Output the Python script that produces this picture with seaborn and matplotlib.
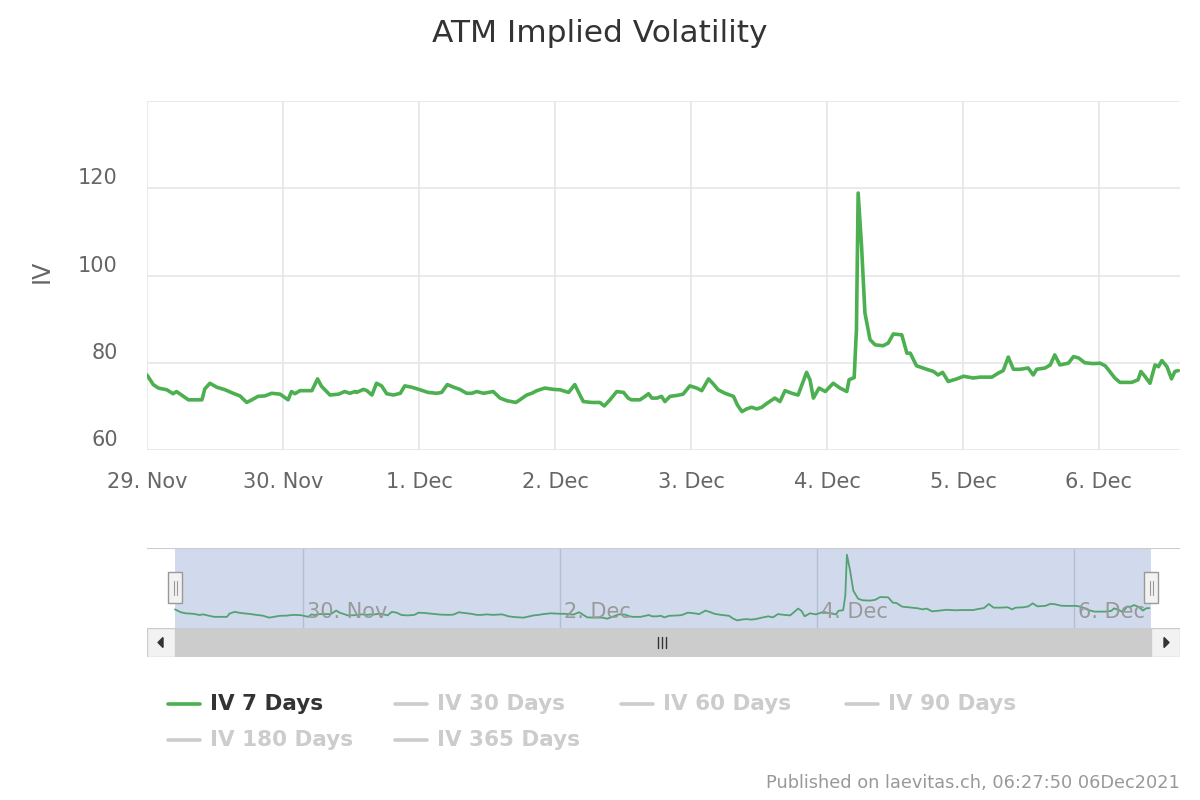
import matplotlib
matplotlib.use("Agg")
import matplotlib.pyplot as plt
import seaborn as sns
import numpy as np
import pandas as pd
from matplotlib.transforms import ScaledTranslation
from matplotlib.lines import Line2D
from matplotlib.patches import Rectangle, Polygon

# ---------------- data ----------------
hours = [0.0, 1.1, 2.0, 3.5, 4.6, 5.2, 6.1, 7.3, 9.7, 10.2, 11.1, 12.3, 13.8, 15.2, 16.4,
         17.6, 18.5, 19.6, 20.8, 22.0, 23.5, 24.9, 25.5, 26.1, 27.0, 29.1, 30.1, 30.8, 31.7,
         32.3, 33.8, 34.9, 35.8, 36.7, 37.0, 38.2, 38.8, 39.7, 40.5, 41.4, 42.3, 43.5, 44.7,
         45.5, 46.7, 48.2, 49.6, 51.1, 52.0, 53.0, 54.1, 55.2, 56.4, 57.3, 58.2, 59.4, 61.1,
         62.3, 63.5, 65.1, 65.8, 67.0, 67.9, 68.8, 70.2, 71.7, 72.9, 74.4, 75.5, 76.4, 77.0,
         78.5, 79.9, 80.7, 81.7, 82.9, 84.1, 84.9, 85.5, 87.0, 87.9, 88.5, 89.1, 90.0, 90.8,
         91.4, 92.3, 93.5, 94.6, 95.8, 97.0, 97.9, 99.1, 99.9, 100.8, 102.0, 103.5, 104.2,
         105.0, 105.8, 106.7, 107.6, 108.5, 109.4, 110.8, 111.7, 112.6, 113.8, 114.9, 116.4,
         117.0, 117.6, 118.6, 119.7, 121.1, 122.3, 123.5, 123.9, 124.8, 125.2, 125.5, 126.1,
         126.7, 127.6, 128.5, 129.9, 130.8, 131.7, 133.2, 134.1, 134.7, 135.8, 137.6, 138.8,
         139.6, 140.4, 141.4, 142.9, 144.1, 145.8, 147.0, 149.1, 150.2, 151.1, 152.0, 152.9,
         154.1, 155.5, 156.4, 157.0, 158.5, 159.4, 160.2, 161.1, 162.6, 163.5, 164.4, 165.5,
         167.0, 168.2, 169.1, 169.6, 170.8, 171.7, 173.8, 174.9, 175.4, 176.1, 177.0, 177.9,
         178.5, 179.1, 180.0, 180.8, 181.4, 182.0]
iv_7d = [77.2, 75.0, 74.2, 73.8, 72.9, 73.4, 72.6, 71.5, 71.5, 74.0, 75.3, 74.4, 73.8, 73.0, 72.4,
         70.9, 71.5, 72.3, 72.4, 73.0, 72.8, 71.5, 73.4, 72.9, 73.6, 73.6, 76.3, 74.6, 73.4,
         72.6, 72.8, 73.4, 73.0, 73.4, 73.2, 73.9, 73.6, 72.6, 75.3, 74.7, 72.9, 72.6, 73.0,
         74.7, 74.4, 73.8, 73.2, 73.0, 73.2, 75.0, 74.4, 73.9, 73.0, 73.0, 73.4, 73.0, 73.4,
         71.9, 71.3, 70.9, 71.5, 72.6, 73.0, 73.6, 74.2, 73.9, 73.8, 73.2, 75.0, 72.6, 71.1,
         70.9, 70.9, 70.1, 71.5, 73.4, 73.2, 71.9, 71.5, 71.5, 72.3, 72.9, 71.9, 71.9, 72.3,
         71.1, 72.3, 72.5, 72.8, 74.7, 74.2, 73.6, 76.3, 75.2, 73.8, 73.0, 72.3, 70.3,
         68.8, 69.4, 69.8, 69.4, 69.8, 70.7, 71.9, 71.1, 73.6, 73.0, 72.6, 77.8,
         76.1, 71.9, 74.2, 73.4, 75.3, 74.2, 73.4, 76.1, 76.6, 87.6, 118.9, 106.7,
         91.4, 85.3, 84.1, 83.9, 84.5, 86.6, 86.4, 82.2, 82.2, 79.3, 78.5, 78.0,
         77.2, 77.8, 75.7, 76.3, 76.9, 76.5, 76.7, 76.7, 77.6, 78.2, 81.3, 78.5,
         78.5, 78.8, 77.2, 78.5, 78.8, 79.5, 81.8, 79.5, 79.9, 81.4, 81.1, 80.0,
         79.8, 79.9, 79.3, 78.5, 76.5, 75.5, 75.5, 76.1, 78.0, 76.9, 75.3, 79.5,
         79.1, 80.5, 79.1, 76.3, 78.0, 78.2]

day_ticks_hours = [0, 24, 48, 72, 96, 120, 144, 168]
day_labels = ["29. Nov", "30. Nov", "1. Dec", "2. Dec", "3. Dec", "4. Dec", "5. Dec", "6. Dec"]
y_ticks = [60, 80, 100, 120, 140]
y_labels = ["60", "80", "100", "120", ""]
nav_tick_hours = [24, 72, 120, 168]
nav_labels = ["30. Nov", "2. Dec", "4. Dec", "6. Dec"]
legend_names = ["IV 7 Days", "IV 30 Days", "IV 60 Days", "IV 90 Days", "IV 180 Days", "IV 365 Days"]
legend_visible = [True, False, False, False, False, False]

df = pd.DataFrame({"hours": hours, "iv": iv_7d})

# ---------------- style ----------------
sns.set_theme(style="white")
plt.rcParams["font.family"] = ["DejaVu Sans"]

W, H = 1200, 800
def fx(x): return x / W
def fy(y): return 1 - y / H

GREEN = "#4caf50"
GRID = "#e6e6e6"
TICK = "#666666"

fig = plt.figure(figsize=(12, 8), dpi=100)
fig.patch.set_facecolor("white")

# ---------------- main chart ----------------
x_end = 182.3
ax = fig.add_axes([fx(147), fy(450), (1180 - 147) / W, (450 - 101) / H])
sns.lineplot(data=df, x="hours", y="iv", ax=ax, color=GREEN, linewidth=2.6)
ax.set_xlim(0, x_end)
ax.set_ylim(60, 140)
ax.set_xticks(day_ticks_hours)
ax.set_xticklabels(day_labels)
ax.set_yticks(y_ticks)
ax.set_yticklabels(y_labels)
ax.grid(True, color=GRID, linewidth=1.2)
ax.set_axisbelow(True)
for s in ax.spines.values():
    s.set_visible(False)
ax.tick_params(axis="both", length=0, labelsize=15, labelcolor=TICK)
ax.tick_params(axis="y", pad=21)
ax.tick_params(axis="x", pad=16)
ax.set_xlabel("")
ax.set_ylabel("")
for lab in ax.get_yticklabels():
    lab.set_transform(lab.get_transform() + ScaledTranslation(0, 12 / 100, fig.dpi_scale_trans))

fig.text(fx(600), fy(33), "ATM Implied Volatility", ha="center", va="center",
         fontsize=22.5, color="#333333")
fig.text(fx(42), fy(271), "IV", ha="center", va="center", rotation=90,
         fontsize=17, color=TICK)

# ---------------- navigator ----------------
px_per_h = (1151 - 175) / x_end
nav_l = 0 - (175 - 147) / px_per_h
nav_r = x_end + (1180 - 1151) / px_per_h
ax2 = fig.add_axes([fx(147), fy(628), (1180 - 147) / W, (628 - 548) / H])
sns.lineplot(data=df, x="hours", y="iv", ax=ax2, color=GREEN, linewidth=1.3)
ax2.set_xlim(nav_l, nav_r)
ax2.set_ylim(63, 124)
ax2.set_xticks(nav_tick_hours)
ax2.set_yticks([])
ax2.set_xticklabels([])
ax2.grid(True, axis="x", color="#d8d8d8", linewidth=1)
ax2.set_axisbelow(True)
ax2.tick_params(length=0)
ax2.set_xlabel("")
ax2.set_ylabel("")
for s in ax2.spines.values():
    s.set_visible(False)
ax2.axhline(124, color="#cccccc", linewidth=1.5, zorder=5)
ax2.axvspan(0, x_end, color="#6685c2", alpha=0.3, linewidth=0, zorder=4)
for h, lab in zip(nav_tick_hours, nav_labels):
    ax2.text(h + 0.6, 75, lab, ha="left", va="center", fontsize=15, color="#999999", zorder=6)

# handles
for hx in (0, x_end):
    ax2.add_patch(Rectangle((hx - 7 / px_per_h, 82), 14 / px_per_h, 23.5,
                            facecolor="#f2f2f2", edgecolor="#999999", linewidth=1,
                            zorder=7, clip_on=False))
    for dx in (-1.5, 1.5):
        ax2.plot([hx + dx / px_per_h] * 2, [88, 99], color="#999999", linewidth=0.8,
                 zorder=8, clip_on=False)

# ---------------- scrollbar ----------------
ax3 = fig.add_axes([fx(147), fy(657), (1180 - 147) / W, (657 - 628) / H])
ax3.set_xlim(147, 1180)
ax3.set_ylim(657, 628)
ax3.axis("off")
ax3.add_patch(Rectangle((147, 628), 1033, 29, facecolor="#f2f2f2", edgecolor="#d6d6d6", linewidth=1))
ax3.add_patch(Rectangle((175, 628), 976, 29, facecolor="#cccccc", edgecolor="#cccccc", linewidth=0))
ax3.add_patch(Rectangle((147, 628), 28, 29, facecolor="#f2f2f2", edgecolor="#cccccc", linewidth=1))
ax3.add_patch(Rectangle((1151, 628), 29, 29, facecolor="#f2f2f2", edgecolor="#cccccc", linewidth=1))
ax3.add_patch(Polygon([[158, 642.5], [163, 637.5], [163, 647.5]], closed=True, color="#333333"))
ax3.add_patch(Polygon([[1169, 642.5], [1164, 637.5], [1164, 647.5]], closed=True, color="#333333"))
for gx in (658, 662, 666):
    ax3.plot([gx, gx], [637, 648], color="#333333", linewidth=1)

# ---------------- legend ----------------
legend_pos = [(168, 704), (395, 704), (621, 704), (846, 704), (168, 740), (395, 740)]
for (lx, ly), name, vis in zip(legend_pos, legend_names, legend_visible):
    col = GREEN if vis else "#cccccc"
    tcol = "#333333" if vis else "#cccccc"
    fig.add_artist(Line2D([fx(lx), fx(lx + 32)], [fy(ly), fy(ly)], color=col, linewidth=2.6))
    fig.text(fx(lx + 42), fy(ly), name, ha="left", va="center", fontsize=15.5,
             fontweight="bold", color=tcol)

fig.text(fx(1180), fy(783), "Published on laevitas.ch, 06:27:50 06Dec2021", ha="right",
         va="center", fontsize=12.8, color="#999999")

fig.savefig("out.png", dpi=100, facecolor="white")
